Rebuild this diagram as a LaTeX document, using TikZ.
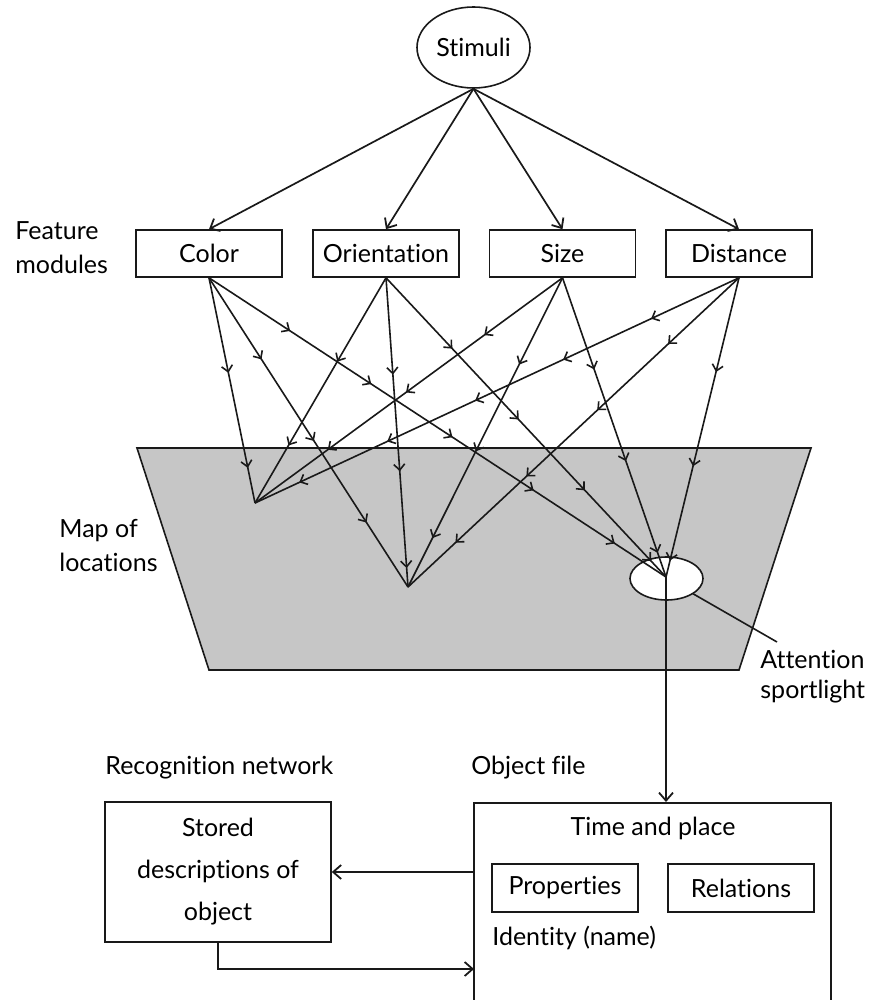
\documentclass[tikz,border=0pt]{standalone}
\usepackage{fontspec}
\setmainfont[Ligatures=NoCommon]{Lato}
\usetikzlibrary{arrows.meta,decorations.markings,shapes.geometric}
\definecolor{mapgray}{RGB}{198,198,198}
\definecolor{inkline}{RGB}{25,25,25}

\begin{document}
\begin{tikzpicture}[x=0.5pt,y=-0.5pt,
  every node/.style={font=\fontsize{12.5}{17}\selectfont, text=black},
  module/.style={draw=inkline, line width=0.8pt, minimum width=73pt, minimum height=23.5pt, inner sep=0pt},
  smallbox/.style={draw=inkline, line width=0.8pt, minimum width=73pt, minimum height=24pt, inner sep=0pt},
  feed/.style={draw=inkline, line width=0.85pt, -{Straight Barb[length=4pt,width=7pt,line width=0.9pt]}},
  flow/.style={draw=inkline, line width=0.8pt, postaction={decorate},
    decoration={markings, mark=between positions 48.5pt and 1 step 48.5pt with {\arrow{Straight Barb[length=3pt,width=5.5pt,line width=0.8pt]}}}},
  label/.style={anchor=west, align=left, inner sep=0pt}
]
\useasboundingbox (0,0) rectangle (868,1000);
\clip (0,0) rectangle (868,1000);

% stimulus source and the four feature modules
\node[ellipse, draw=inkline, line width=0.8pt, minimum width=56.5pt, minimum height=40.5pt, inner sep=0pt] (stim) at (473.5,47.5) {Stimuli};
\node[module] (color) at (209,253.5) {Color};
\node[module] (orient) at (386,253.5) {Orientation};
\node[module] (size) at (562.5,253.5) {Size};
\node[module] (dist) at (739,253.5) {Distance};
\node[label] (featlbl) at (15,248) {Feature\\modules};

\foreach \m in {color,orient,size,dist}
  \draw[feed] (stim.south) -- (\m.north);

% map of locations
\path[fill=mapgray, draw=inkline, line width=0.8pt] (137,448) -- (811,448) -- (739,670) -- (209,670) -- cycle;
\node[label] (maplbl) at (59,545.5) {Map of\\locations};

\node[ellipse, draw=inkline, fill=white, line width=0.8pt, minimum width=36.5pt, minimum height=21.5pt, inner sep=0pt] (spot) at (666.5,578.5) {};

\coordinate (pA) at (255,503);
\coordinate (pB) at (408,587);
\coordinate (pC) at (666,577);

% every module feeds every location
\foreach \m in {color,orient,size,dist}
  \foreach \p in {pA,pB,pC}
    \draw[flow] (\m.south) -- (\p);

% attention spotlight label
\coordinate (attn) at (777,642);
\draw[draw=inkline, line width=0.8pt] (spot) -- (attn);
\node[anchor=west, align=left, inner sep=0pt, font=\fontsize{12.5}{15}\selectfont] (attnlbl) at (760,677) {Attention\\sportlight};

% object file
\node[draw=inkline, line width=0.8pt, minimum width=178.5pt, minimum height=115pt, inner sep=0pt, anchor=north] (objf) at (652.5,802) {};
\node[label] (objlbl) at (471,768) {Object file};
\node (timeplace) at (653,828) {Time and place};
\node[smallbox] (props) at (565,888) {Properties};
\node[smallbox] (rels) at (741,888) {Relations};
\node[label] (ident) at (492,938) {Identity (name)};

\draw[feed] (pC) -- (pC |- objf.north);

% recognition network
\node[label] (reclbl) at (105,768) {Recognition network};
\node[draw=inkline, line width=0.8pt, minimum width=113pt, minimum height=70pt, inner sep=0pt, align=center, font=\fontsize{12.5}{21}\selectfont] (stored) at (218,872) {Stored\\descriptions of\\object};

\coordinate (retin) at (474,969);
\draw[feed] (objf.west |- stored.east) -- (stored.east);
\draw[feed] (stored.south) |- (retin);
\end{tikzpicture}
\end{document}
